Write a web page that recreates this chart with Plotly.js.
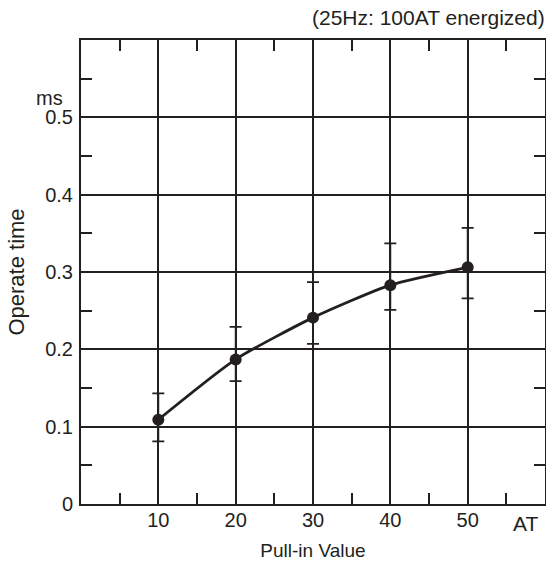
<!DOCTYPE html>
<html>
<head>
<meta charset="utf-8">
<script src="https://cdn.plot.ly/plotly-3.0.1.min.js"></script>
<style>html,body{margin:0;padding:0;background:#fff;}#chart{width:546px;height:570px;}</style>
</head>
<body>
<div id="chart"></div>
<script>
const pullIn = [10, 20, 30, 40, 50];
const operateTime = [0.109, 0.187, 0.241, 0.283, 0.306];
const upperLimit = [0.143, 0.229, 0.287, 0.337, 0.357];
const lowerLimit = [0.081, 0.159, 0.207, 0.251, 0.266];
const xTickVals = [10, 20, 30, 40, 50];
const xTickText = ['10', '20', '30', '40', '50'];
const yTickVals = [0, 0.1, 0.2, 0.3, 0.4, 0.5];
const yTickText = ['0', '0.1', '0.2', '0.3', '0.4', '0.5'];
const xMinorVals = [5, 15, 25, 35, 45, 55];
const yMinorVals = [0.05, 0.15, 0.25, 0.35, 0.45, 0.55];

const ink = '#231f20';
const fnt = 'Liberation Sans, Arial, Helvetica, sans-serif';

const trace = {
  x: pullIn,
  y: operateTime,
  type: 'scatter',
  mode: 'lines+markers',
  line: {color: ink, width: 2.8, shape: 'spline', smoothing: 0.6},
  marker: {color: ink, size: 12},
  error_y: {
    type: 'data',
    symmetric: false,
    array: upperLimit.map((u, i) => u - operateTime[i]),
    arrayminus: lowerLimit.map((l, i) => operateTime[i] - l),
    color: ink,
    thickness: 1.8,
    width: 6
  },
  cliponaxis: false,
  hoverinfo: 'none'
};

const layout = {
  width: 546,
  height: 570,
  margin: {l: 81, r: 1, t: 40, b: 66},
  paper_bgcolor: '#fff',
  plot_bgcolor: '#fff',
  showlegend: false,
  font: {family: fnt, color: ink, size: 20},
  xaxis: {
    range: [0, 60],
    tickmode: 'array',
    tickvals: xTickVals,
    ticktext: xTickText,
    ticks: 'inside',
    ticklen: 0,
    ticklabelstandoff: -3,
    showline: true,
    linecolor: ink,
    linewidth: 2,
    mirror: 'ticks',
    showgrid: true,
    gridcolor: ink,
    gridwidth: 2,
    zeroline: false,
    tickfont: {size: 20, color: ink},
    minor: {tickmode: 'array', tickvals: xMinorVals, ticks: 'inside', ticklen: 11, tickwidth: 2, tickcolor: ink, showgrid: false},
    title: {text: 'Pull-in Value', font: {size: 19, color: ink}, standoff: 14},
    fixedrange: true
  },
  yaxis: {
    range: [0, 0.6],
    tickmode: 'array',
    tickvals: yTickVals,
    ticktext: yTickText,
    ticks: 'inside',
    ticklen: 0,
    ticklabelstandoff: 2,
    showline: true,
    linecolor: ink,
    linewidth: 2,
    mirror: 'ticks',
    showgrid: true,
    gridcolor: ink,
    gridwidth: 2,
    zeroline: false,
    tickfont: {size: 20, color: ink},
    minor: {tickmode: 'array', tickvals: yMinorVals, ticks: 'inside', ticklen: 11, tickwidth: 2, tickcolor: ink, showgrid: false},
    title: {text: 'Operate time', font: {size: 22, color: ink}, standoff: 14},
    fixedrange: true
  },
  annotations: [
    {text: '(25Hz: 100AT energized)', xref: 'paper', yref: 'paper', x: 1, y: 1, xanchor: 'right', yanchor: 'bottom', xshift: 2, yshift: 9, showarrow: false, font: {size: 21, color: ink}},
    {text: 'ms', xref: 'paper', yref: 'y', x: 0, y: 0.5, xanchor: 'right', yanchor: 'bottom', xshift: -16, yshift: 6, showarrow: false, font: {size: 20, color: ink}},
    {text: 'AT', xref: 'x', yref: 'paper', x: 57.5, y: 0, xanchor: 'center', yanchor: 'top', yshift: -6, showarrow: false, font: {size: 21, color: ink}}
  ]
};

Plotly.newPlot('chart', [trace], layout, {displayModeBar: false, staticPlot: true});
</script>
</body>
</html>
